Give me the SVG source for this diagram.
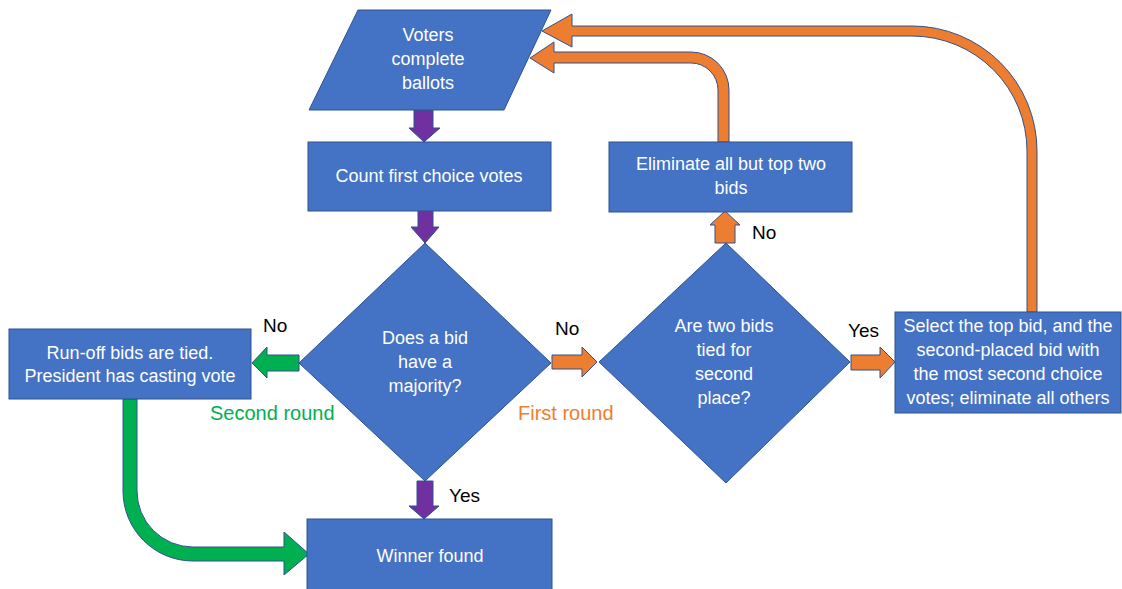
<svg xmlns="http://www.w3.org/2000/svg" width="1122" height="589" viewBox="0 0 1122 589">
<style>
.n{fill:#4472C4;stroke:#2F528F;stroke-width:1}
.t{fill:#fff;font-family:"Liberation Sans",Arial,sans-serif;font-size:18px;text-anchor:middle}
.l{fill:#000;font-family:"Liberation Sans",Arial,sans-serif;font-size:19px}
.c{stroke:#2F528F;stroke-width:1;stroke-linejoin:miter}
.p{fill:#7030A0}.o{fill:#ED7D31}.g{fill:#00B050}
</style>
<rect width="1122" height="589" fill="#fff"/>
<g id="connectors">
<polygon class="c p" points="414,110 433,110 433,128 440,128 424,142 409,128 414,128"/>
<polygon class="c p" points="418,211 433,211 433,227 439,227 425,243 411,227 418,227"/>
<polygon class="c p" points="417,481 433,481 433,506 439,506 424,519 409,506 417,506"/>
<polygon class="c g" points="299,355 299,371 267,371 267,378 252,363 267,347 267,355"/>
<polygon class="c o" points="552,355 582,355 582,347 597,362 582,377 582,369 552,369"/>
<polygon class="c o" points="715,243 735,243 735,225 740,225 725,211 710,225 715,225"/>
<polygon class="c o" points="851,355 880,355 880,347 895,362 880,378 880,370 851,370"/>
<path class="c o" d="M718 142 L718 90 A27 27 0 0 0 691 63 L554 63 L554 73 L530 58 L554 42 L554 52 L691 52 A38 38 0 0 1 729 90 L729 142 Z"/>
<path class="c o" d="M1027 312 L1027 151 A115 115 0 0 0 912 36 L572 36 L572 47 L542 31 L572 14 L572 26 L912 26 A125 125 0 0 1 1037 151 L1037 312 Z"/>
<path class="c g" d="M123 399 L123 491 A70 70 0 0 0 193 561 L284 561 L284 575 L309 554 L284 532 L284 547 L193 547 A56 56 0 0 1 137 491 L137 399 Z"/>
</g>
<g id="voters">
<polygon class="n" points="358,10 551,10 504,110 309,110"/>
<text class="t" x="428" y="41">Voters</text>
<text class="t" x="428" y="65">complete</text>
<text class="t" x="428" y="89">ballots</text>
</g>
<g id="count">
<rect class="n" x="308" y="142" width="243" height="69"/>
<text class="t" x="429" y="182">Count first choice votes</text>
</g>
<g id="majority">
<polygon class="n" points="425,243 551,363 425,481 299,363"/>
<text class="t" x="425" y="344">Does a bid</text>
<text class="t" x="425" y="368">have a</text>
<text class="t" x="425" y="392">majority?</text>
</g>
<g id="winner">
<rect class="n" x="307" y="519" width="245" height="80"/>
<text class="t" x="430" y="562">Winner found</text>
</g>
<g id="runoff">
<rect class="n" x="9" y="329" width="242" height="70"/>
<text class="t" x="130" y="359">Run-off bids are tied.</text>
<text class="t" x="130" y="382">President has casting vote</text>
</g>
<g id="tied">
<polygon class="n" points="726,243 850,362 726,483 599,362"/>
<text class="t" x="724" y="332">Are two bids</text>
<text class="t" x="724" y="356">tied for</text>
<text class="t" x="724" y="380">second</text>
<text class="t" x="724" y="404">place?</text>
</g>
<g id="eliminate">
<rect class="n" x="609" y="142" width="243" height="70"/>
<text class="t" x="731" y="170">Eliminate all but top two</text>
<text class="t" x="731" y="194">bids</text>
</g>
<g id="select">
<rect class="n" x="895" y="312" width="226" height="101"/>
<text class="t" x="1008" y="332">Select the top bid, and the</text>
<text class="t" x="1008" y="356">second-placed bid with</text>
<text class="t" x="1008" y="380">the most second choice</text>
<text class="t" x="1008" y="404">votes; eliminate all others</text>
</g>
<g id="labels">
<text class="l" x="263" y="332">No</text>
<text class="l" x="555" y="335">No</text>
<text class="l" x="752" y="239">No</text>
<text class="l" x="848" y="337">Yes</text>
<text class="l" x="449" y="502">Yes</text>
<text class="l" x="210" y="420" style="fill:#00B050;font-size:20px">Second round</text>
<text class="l" x="518" y="420" style="fill:#ED7D31;font-size:20px">First round</text>
</g>
</svg>
